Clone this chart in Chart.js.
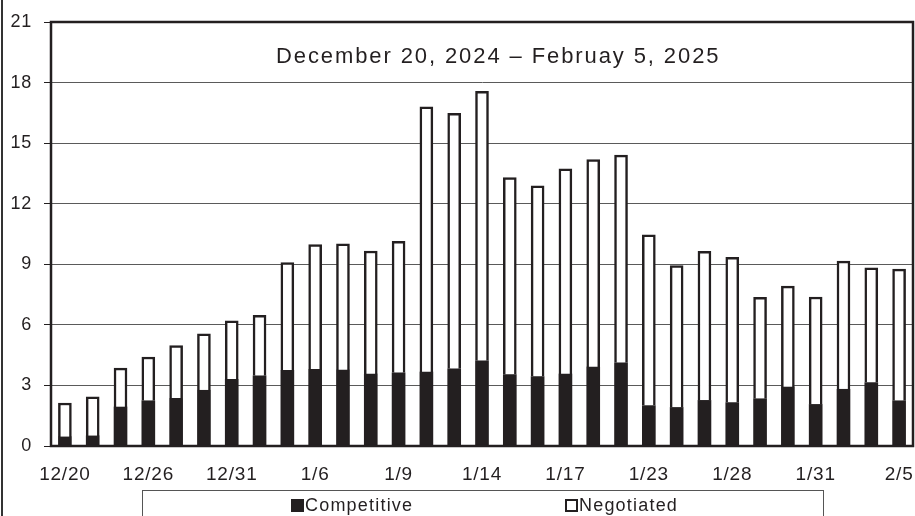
<!DOCTYPE html>
<html>
<head>
<meta charset="utf-8">
<script src="https://cdn.jsdelivr.net/npm/chart.js@4.4.1/dist/chart.umd.min.js"></script>
<style>
  html, body { margin: 0; padding: 0; background: #fff; }
  #wrap { width: 915px; height: 516px; position: relative; }
</style>
</head>
<body>
<div id="wrap"><canvas id="myChart"></canvas></div>
<script>
// business days, labelled every third one
const dates = [
  '12/20', '12/23', '12/24', '12/26', '12/27', '12/30', '12/31', '1/2', '1/3', '1/6',
  '1/7', '1/8', '1/9', '1/10', '1/13', '1/14', '1/15', '1/16', '1/17', '1/21',
  '1/22', '1/23', '1/24', '1/27', '1/28', '1/29', '1/30', '1/31', '2/3', '2/4', '2/5'
];
const competitive = [
  0.45, 0.50, 1.93, 2.24, 2.36, 2.76, 3.30, 3.48, 3.75, 3.80,
  3.76, 3.56, 3.63, 3.66, 3.82, 4.22, 3.54, 3.44, 3.56, 3.91,
  4.12, 2.00, 1.91, 2.26, 2.15, 2.34, 2.92, 2.06, 2.81, 3.14, 2.24
];
const negotiated = [
  1.68, 1.93, 1.93, 2.17, 2.61, 2.80, 2.90, 2.99, 5.34, 6.18,
  6.25, 6.10, 6.51, 13.14, 12.66, 13.35, 9.76, 9.45, 10.17, 10.28,
  10.29, 8.46, 7.03, 7.38, 7.19, 5.02, 5.00, 5.32, 6.35, 5.69, 6.52
];
const yMax = 21;
const yStep = 3;
const titleText = 'December 20, 2024 \u2013 Februay 5, 2025';

const ink = '#231f20';
const fontFamily = "'Liberation Sans', Arial, Helvetica, sans-serif";

// frame, title, outer border and the boxed legend
const decorations = {
  id: 'decorations',
  beforeDraw(chart) {
    chart.ctx.letterSpacing = '0.8px';
  },
  afterDraw(chart) {
    const ctx = chart.ctx;
    const a = chart.chartArea;
    ctx.save();

    // plot frame
    ctx.strokeStyle = ink;
    ctx.lineWidth = 2.5;
    ctx.strokeRect(a.left, a.top, a.right - a.left, a.bottom - a.top);

    // outer left border of the figure
    ctx.fillStyle = '#333';
    ctx.fillRect(1, 0, 2, chart.height);

    // title inside the plot
    ctx.fillStyle = ink;
    ctx.font = '22px ' + fontFamily;
    ctx.letterSpacing = '1.9px';
    ctx.textAlign = 'left';
    ctx.textBaseline = 'alphabetic';
    ctx.fillText(titleText, 276, 63);

    // legend box
    ctx.letterSpacing = '1.2px';
    ctx.strokeStyle = '#555';
    ctx.lineWidth = 1;
    ctx.strokeRect(142.5, 490.5, 681, 40);
    ctx.font = '18px ' + fontFamily;
    ctx.textBaseline = 'middle';
    const items = [
      { x: 291, ds: chart.data.datasets[0] },
      { x: 565, ds: chart.data.datasets[1] }
    ];
    items.forEach(it => {
      if (it.ds.backgroundColor === '#ffffff') {
        ctx.fillStyle = '#fff';
        ctx.fillRect(it.x, 499, 13, 13);
        ctx.strokeStyle = ink;
        ctx.lineWidth = 2;
        ctx.strokeRect(it.x + 1, 500, 11, 11);
      } else {
        ctx.fillStyle = ink;
        ctx.fillRect(it.x, 499, 13, 13);
      }
      ctx.fillStyle = ink;
      ctx.fillText(it.ds.label, it.x + 14, 506);
    });
    ctx.restore();
  }
};

new Chart(document.getElementById('myChart'), {
  type: 'bar',
  data: {
    labels: dates,
    datasets: [
      {
        label: 'Competitive',
        data: competitive,
        backgroundColor: ink,
        borderColor: ink,
        borderWidth: 0,
        barThickness: 13
      },
      {
        label: 'Negotiated',
        data: negotiated,
        backgroundColor: '#ffffff',
        borderColor: ink,
        borderWidth: 2.5,
        barThickness: 13
      }
    ]
  },
  options: {
    responsive: true,
    maintainAspectRatio: false,
    animation: false,
    layout: { padding: { top: 22, right: 2, left: 0, bottom: 0 } },
    plugins: {
      legend: { display: false },
      title: { display: false },
      tooltip: { enabled: false }
    },
    scales: {
      x: {
        stacked: true,
        grid: { display: false },
        border: { display: true, color: ink, width: 2 },
        ticks: {
          autoSkip: false,
          maxRotation: 0,
          color: ink,
          padding: 9,
          font: { family: fontFamily, size: 19 },
          callback: (v, i) => (i % 3 === 0 ? dates[i] : '')
        },
        afterFit: s => {
          s.height = 70;
          s.paddingLeft = 0;
          s.paddingRight = 0;
        }
      },
      y: {
        stacked: true,
        min: 0,
        max: yMax,
        grid: { color: '#5a5a5a', lineWidth: 1, tickLength: 7, tickColor: ink },
        border: { display: true, color: ink, width: 2 },
        ticks: {
          stepSize: yStep,
          color: ink,
          padding: 12,
          font: { family: fontFamily, size: 18 }
        },
        afterFit: s => {
          s.width = 51;
          s.paddingTop = 0;
          s.paddingBottom = 0;
        }
      }
    }
  },
  plugins: [decorations]
});
</script>
</body>
</html>
